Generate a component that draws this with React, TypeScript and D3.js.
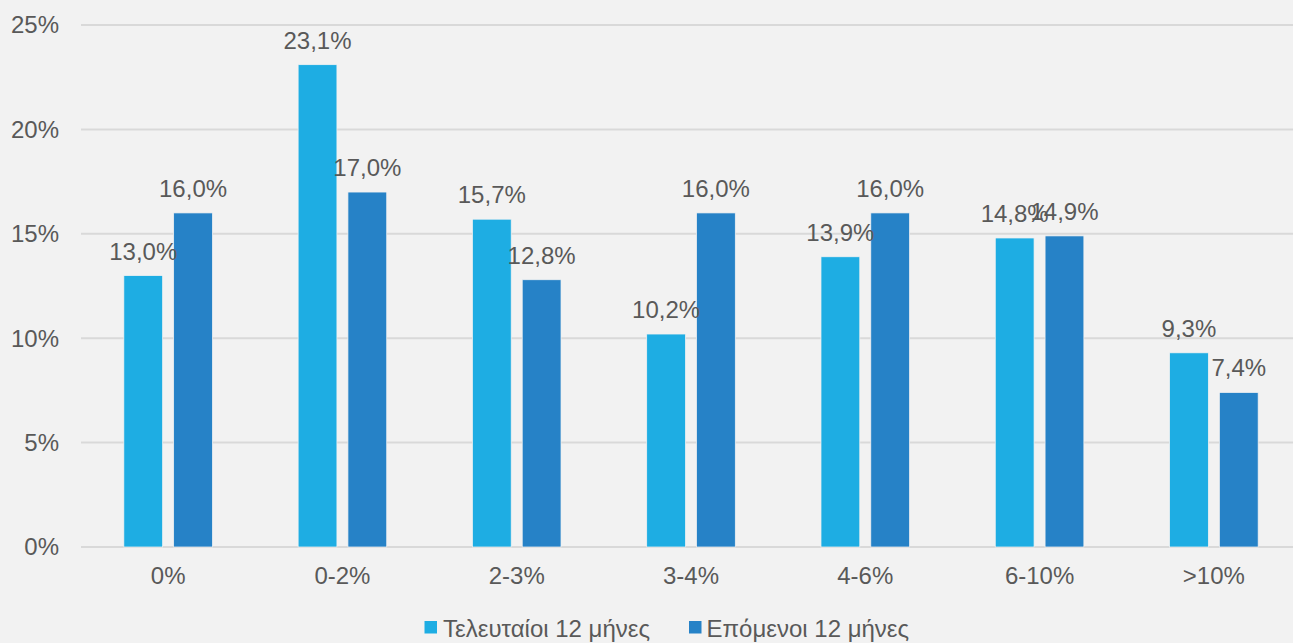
import React from "react";
import * as d3 from "d3";

const categories = ["0%", "0-2%", "2-3%", "3-4%", "4-6%", "6-10%", ">10%"];
const seriesNames = ["Τελευταίοι 12 μήνες", "Επόμενοι 12 μήνες"];
const lastValues = [13.0, 23.1, 15.7, 10.2, 13.9, 14.8, 9.3];
const nextValues = [16.0, 17.0, 12.8, 16.0, 16.0, 14.9, 7.4];
const yTicks = [0, 5, 10, 15, 20, 25];
const colors = ["#1eade3", "#2682c7"];

const W = 1293;
const H = 643;
const FONT = "Arial, 'Liberation Sans', sans-serif";
const TEXT = "#595959";
const FS = 24;

export default function App() {
  const x = d3.scaleBand<string>().domain(categories).range([81, 1301]).padding(0);
  const inner = d3
    .scaleBand<string>()
    .domain(seriesNames)
    .range([0, x.bandwidth()])
    .paddingInner(0.221)
    .paddingOuter(0.86);
  const y = d3.scaleLinear().domain([0, 25]).range([547, 25]);
  const series = [lastValues, nextValues];
  const fmt = (v: number) => v.toFixed(1).replace(".", ",") + "%";

  const legendItems = [
    { name: seriesNames[0], sx: 424.5, tx: 443 },
    { name: seriesNames[1], sx: 689, tx: 706.5 },
  ];

  return (
    <svg
      width={W}
      height={H}
      style={{ position: "fixed", left: 0, top: 0, display: "block" }}
      fontFamily={FONT}
    >
      <rect x={0} y={0} width={W} height={H} fill="#f2f2f2" />
      {yTicks.map((t) => (
        <g key={t}>
          <line x1={81} x2={1301} y1={y(t)} y2={y(t)} stroke="#d9d9d9" strokeWidth={2} />
          <text
            x={59}
            y={y(t)}
            dy="0.35em"
            textAnchor="end"
            fontSize={FS}
            fill={TEXT}
          >
            {t + "%"}
          </text>
        </g>
      ))}
      {categories.map((c, i) => (
        <g key={c} transform={`translate(${x(c)},0)`}>
          {series.map((vals, s) => {
            const bx = inner(seriesNames[s])!;
            const bw = inner.bandwidth();
            const v = vals[i];
            return (
              <rect
                key={s}
                x={bx}
                y={y(v)}
                width={bw}
                height={y(0) - y(v)}
                fill={colors[s]}
                stroke="#f2f2f2"
                strokeWidth={0.75}
              />
            );
          })}
          <text
            x={x.bandwidth() / 2}
            y={584}
            textAnchor="middle"
            fontSize={FS}
            fill={TEXT}
          >
            {c}
          </text>
        </g>
      ))}
      {categories.map((c, i) => (
        <g key={"l" + c} transform={`translate(${x(c)},0)`}>
          {series.map((vals, s) => {
            const bx = inner(seriesNames[s])!;
            const bw = inner.bandwidth();
            const v = vals[i];
            return (
              <text
                key={s}
                x={bx + bw / 2}
                y={y(v) - 16}
                textAnchor="middle"
                fontSize={FS}
                fill={TEXT}
              >
                {fmt(v)}
              </text>
            );
          })}
        </g>
      ))}
      {legendItems.map((l, s) => (
        <g key={l.name}>
          <rect x={l.sx} y={621} width={12.5} height={12.5} fill={colors[s]} />
          <text x={l.tx} y={636.5} fontSize={FS} fill={TEXT}>
            {l.name}
          </text>
        </g>
      ))}
    </svg>
  );
}
